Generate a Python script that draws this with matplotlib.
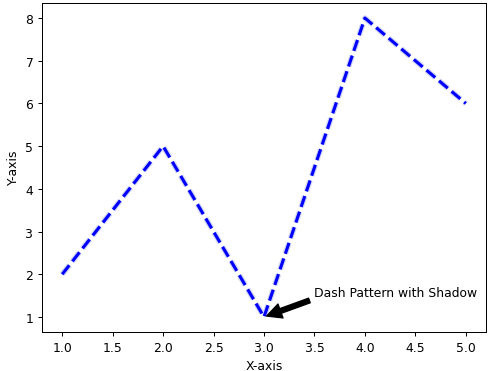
import matplotlib
matplotlib.use("Agg")
import matplotlib.pyplot as plt
import matplotlib.patheffects as pe

x = [1, 2, 3, 4, 5]
y = [2, 5, 1, 8, 6]

dpi = 89.5
fig, ax = plt.subplots(figsize=(500 / dpi, 372 / dpi), dpi=dpi)
fig.subplots_adjust(left=0.084, right=0.972, top=0.989, bottom=0.105)
ax.plot(x, y, color='blue', linestyle='--', linewidth=2.5,
        path_effects=[pe.Stroke(linewidth=4.5, foreground='#b8bfe6', alpha=0.6), pe.Normal()])
ax.annotate('Dash Pattern with Shadow', xy=(3, 1), xytext=(3.5, 1.5),
            arrowprops=dict(facecolor='black', shrink=0.05))
ax.set_xlabel('X-axis')
ax.set_ylabel('Y-axis')
fig.savefig('out.png')
